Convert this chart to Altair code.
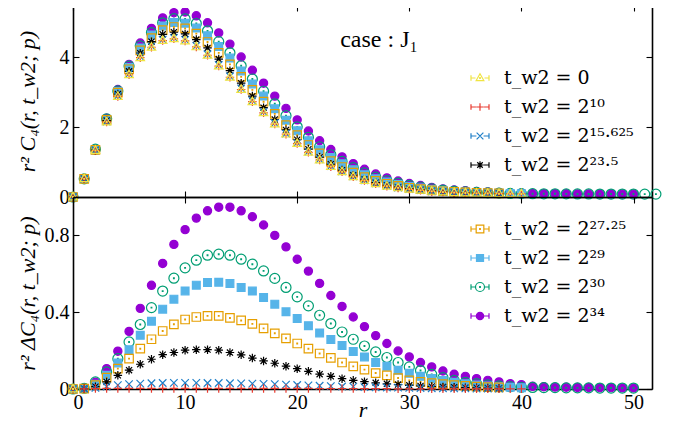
import altair as alt
import pandas as pd

FONT = "Liberation Serif"
LFONT = "DejaVu Serif"

SERIES = ["t_w2 = 0", "t_w2 = 2¹⁰", "t_w2 = 2¹⁵·⁶²⁵", "t_w2 = 2²³·⁵",
          "t_w2 = 2²⁷·²⁵", "t_w2 = 2²⁹", "t_w2 = 2³⁰", "t_w2 = 2³⁴"]
COLORS = ["#f0e442", "#e8392e", "#1f7fc8", "#000000",
          "#e69f00", "#56b4e9", "#009e73", "#9400d3"]
FILLS = ["transparent", "transparent", "transparent", "transparent",
         "transparent", "#56b4e9", "transparent", "#9400d3"]

X_TICKS = [0, 10, 20, 30, 40, 50]
Y_TICKS_TOP = [0, 2, 4]
Y_TICKS_BOT = [0, 0.4, 0.8]

# ---- top panel: r^2 C4(r, t_w2; p), r = 0, 1, 2, ...
C_0 = [0.0, 0.52, 1.33, 2.15, 2.88, 3.50, 3.99, 4.29, 4.48, 4.53, 4.47, 4.30, 4.06, 3.75,
       3.43, 3.08, 2.73, 2.41, 2.09, 1.80, 1.53, 1.28, 1.06, 0.87, 0.72, 0.58, 0.47, 0.38,
       0.31, 0.26, 0.22, 0.19, 0.16, 0.14, 0.125, 0.115, 0.105, 0.10, 0.095, 0.09, 0.088]
C_10 = [0.0, 0.52, 1.33, 2.15, 2.88, 3.50, 3.99, 4.29, 4.48, 4.53, 4.47, 4.30, 4.06, 3.75,
        3.43, 3.08, 2.73, 2.41, 2.09, 1.80, 1.53, 1.28, 1.06, 0.87, 0.72, 0.58, 0.47, 0.38,
        0.31, 0.26, 0.22, 0.19, 0.16, 0.14, 0.125, 0.115, 0.105, 0.10, 0.095, 0.09, 0.088]
C_15 = [0.0, 0.52, 1.34, 2.16, 2.90, 3.53, 4.02, 4.32, 4.51, 4.56, 4.50, 4.33, 4.09, 3.78,
        3.46, 3.11, 2.76, 2.44, 2.12, 1.82, 1.55, 1.30, 1.08, 0.885, 0.733, 0.592, 0.48,
        0.389, 0.318, 0.267, 0.226, 0.195, 0.164, 0.144, 0.128, 0.118, 0.107, 0.102, 0.097]
C_23 = [0.0, 0.52, 1.34, 2.19, 2.95, 3.60, 4.12, 4.45, 4.66, 4.72, 4.67, 4.51, 4.27, 3.95,
        3.62, 3.26, 2.89, 2.56, 2.22, 1.92, 1.64, 1.37, 1.14, 0.94, 0.77, 0.625, 0.508,
        0.412, 0.337, 0.283, 0.239, 0.206, 0.173, 0.151, 0.134, 0.122, 0.111, 0.105, 0.099]
C_27 = [0.0, 0.52, 1.35, 2.21, 2.99, 3.66, 4.20, 4.55, 4.78, 4.87, 4.83, 4.68, 4.44, 4.13,
        3.80, 3.44, 3.07, 2.73, 2.38, 2.06, 1.77, 1.49, 1.25, 1.03, 0.86, 0.70, 0.57, 0.46,
        0.38, 0.32, 0.265, 0.227, 0.191, 0.165, 0.145, 0.131, 0.117, 0.11, 0.103]
C_29 = [0.0, 0.52, 1.36, 2.22, 3.02, 3.71, 4.27, 4.64, 4.90, 5.00, 4.98, 4.84, 4.62, 4.31,
        3.98, 3.61, 3.24, 2.89, 2.53, 2.20, 1.90, 1.61, 1.35, 1.13, 0.95, 0.78, 0.64, 0.52,
        0.43, 0.36, 0.30, 0.256, 0.215, 0.184, 0.16, 0.142, 0.126, 0.116, 0.107, 0.099, 0.095]
C_30 = [0.0, 0.52, 1.37, 2.24, 3.04, 3.75, 4.33, 4.71, 4.99, 5.11, 5.10, 4.97, 4.76, 4.45,
        4.13, 3.76, 3.38, 3.03, 2.67, 2.33, 2.01, 1.71, 1.44, 1.21, 1.02, 0.84, 0.69, 0.57,
        0.47, 0.40, 0.335, 0.286, 0.236, 0.199, 0.17, 0.15, 0.133, 0.121, 0.111, 0.102,
        0.097, 0.094, 0.092, 0.091, 0.089, 0.088, 0.087, 0.085, 0.085, 0.084, 0.084, 0.083,
        0.083]
C_34 = [0.0, 0.53, 1.37, 2.26, 3.08, 3.80, 4.41, 4.83, 5.13, 5.28, 5.30, 5.19, 4.99, 4.70,
        4.38, 4.01, 3.63, 3.26, 2.89, 2.54, 2.21, 1.89, 1.61, 1.36, 1.15, 0.955, 0.795,
        0.658, 0.547, 0.458, 0.387, 0.328, 0.275, 0.234, 0.202, 0.181, 0.159, 0.145, 0.132,
        0.118, 0.111, 0.10, 0.097, 0.094, 0.092, 0.09, 0.089, 0.087, 0.087, 0.085, 0.085]

# ---- bottom panel: r^2 Delta C4(r, t_w2; p)
D_0 = [0.0]
D_10 = [0.0, 0.001, 0.002, 0.003, 0.003, 0.003, 0.003, 0.003, 0.003, 0.003, 0.003, 0.003,
        0.003, 0.003, 0.003, 0.003, 0.003, 0.003, 0.003, 0.003, 0.003, 0.003, 0.002, 0.002,
        0.002, 0.002, 0.002, 0.002, 0.002, 0.001, 0.001, 0.001, 0.001, 0.001, 0.001, 0.001,
        0.001, 0.001, 0.001, 0.001, 0.001]
D_15 = [0.0, 0.001, 0.006, 0.013, 0.02, 0.025, 0.028, 0.03, 0.031, 0.032, 0.032, 0.032,
        0.031, 0.031, 0.03, 0.029, 0.028, 0.027, 0.025, 0.023, 0.021, 0.019, 0.017, 0.015,
        0.013, 0.012, 0.01, 0.009, 0.008, 0.007, 0.006, 0.005, 0.004, 0.004, 0.003, 0.003,
        0.002, 0.002, 0.002]
D_23 = [0.0, 0.001, 0.012, 0.037, 0.071, 0.098, 0.129, 0.155, 0.179, 0.19, 0.202, 0.205,
        0.205, 0.202, 0.19, 0.178, 0.161, 0.146, 0.134, 0.119, 0.106, 0.092, 0.077, 0.066,
        0.054, 0.045, 0.038, 0.032, 0.027, 0.023, 0.019, 0.016, 0.013, 0.011, 0.009, 0.007,
        0.006, 0.005, 0.004]
D_27 = [0.0, 0.002, 0.02, 0.059, 0.106, 0.158, 0.21, 0.259, 0.302, 0.337, 0.362, 0.375,
        0.381, 0.381, 0.37, 0.357, 0.339, 0.316, 0.29, 0.264, 0.237, 0.21, 0.185, 0.162,
        0.138, 0.118, 0.101, 0.083, 0.071, 0.057, 0.045, 0.037, 0.031, 0.025, 0.02, 0.016,
        0.012, 0.01, 0.008]
D_29 = [0.0, 0.003, 0.025, 0.071, 0.136, 0.205, 0.28, 0.353, 0.416, 0.468, 0.511, 0.541,
        0.555, 0.556, 0.55, 0.529, 0.51, 0.477, 0.442, 0.402, 0.367, 0.33, 0.292, 0.258,
        0.226, 0.195, 0.167, 0.138, 0.118, 0.098, 0.082, 0.066, 0.055, 0.044, 0.035, 0.027,
        0.021, 0.016, 0.012, 0.009, 0.007]
D_30 = [0.0, 0.004, 0.037, 0.089, 0.158, 0.245, 0.336, 0.424, 0.51, 0.577, 0.631, 0.671,
        0.697, 0.702, 0.697, 0.676, 0.65, 0.615, 0.576, 0.529, 0.48, 0.433, 0.384, 0.341,
        0.297, 0.259, 0.224, 0.193, 0.164, 0.138, 0.115, 0.096, 0.076, 0.059, 0.045, 0.035,
        0.028, 0.021, 0.016, 0.012, 0.009, 0.008, 0.007, 0.007, 0.006, 0.006, 0.006, 0.005,
        0.005, 0.005, 0.005]
D_34 = [0.0, 0.005, 0.035, 0.106, 0.197, 0.30, 0.42, 0.54, 0.654, 0.753, 0.83, 0.89,
        0.928, 0.947, 0.947, 0.928, 0.897, 0.854, 0.80, 0.74, 0.676, 0.614, 0.55, 0.487,
        0.43, 0.375, 0.325, 0.278, 0.237, 0.198, 0.167, 0.138, 0.115, 0.094, 0.077, 0.066,
        0.054, 0.045, 0.037, 0.028, 0.023, 0.014, 0.012, 0.01, 0.009, 0.008, 0.008, 0.007,
        0.007, 0.006, 0.006]

TOP = [C_0, C_10, C_15, C_23, C_27, C_29, C_30, C_34]
BOT = [D_0, D_10, D_15, D_23, D_27, D_29, D_30, D_34]


# ---- marker glyphs (unit square -1..1)
def dot(k):
    d = 0.07 * k
    return f"M{-d},{-d}H{d}V{d}H{-d}Z"


def circle(k):
    return f"M{k},0A{k},{k} 0 1,1 {-k},0A{k},{k} 0 1,1 {k},0Z"


def square(k):
    return f"M{-k},{-k}H{k}V{k}H{-k}Z"


def triangle(k):
    return f"M0,{-k}L{0.9 * k},{0.6 * k}L{-0.9 * k},{0.6 * k}Z"


def plus(k):
    return f"M{-k},0H{k}M0,{-k}V{k}"


def xcross(k):
    return f"M{-k},{-k}L{k},{k}M{-k},{k}L{k},{-k}"


def aster(k):
    d = 0.72 * k
    return plus(k) + f"M{-d},{-d}L{d},{d}M{-d},{d}L{d},{-d}"


def glyphs(s):
    return [
        triangle(0.95 * s) + dot(s),
        plus(0.85 * s),
        xcross(0.75 * s),
        aster(0.85 * s),
        square(0.85 * s) + dot(s),
        square(0.78 * s),
        circle(1.0 * s) + dot(s),
        circle(0.82 * s),
    ]


MARK_SHAPES = glyphs(1.0)
LEG_K = 0.5
LEG_SHAPES = []
for g, k_half in zip(glyphs(LEG_K), [0.5, 0.45, 0.4, 0.45, 0.45, 0.42, 0.5, 0.42]):
    LEG_SHAPES.append(g + f"M-1,0H{-k_half}M{k_half},0H1M-1,-0.3V0.3M1,-0.3V0.3")


def frame(rows_list):
    rows = []
    for i in reversed(range(len(SERIES))):
        for r, v in enumerate(rows_list[i]):
            rows.append({"r": r, "v": v, "s": SERIES[i]})
    return pd.DataFrame(rows)


XSCALE = alt.Scale(domain=[0, 51.65], nice=False, zero=False)

AX = dict(domainColor="black", domainWidth=1.6, ticks=False, tickSize=0, grid=True,
          gridColor="black", gridWidth=1.1, gridDash=[6, 3000], gridOpacity=1,
          labelFont=FONT, labelFontSize=20, labelColor="black",
          titleFont=FONT, titleFontSize=22, titleColor="black",
          titleFontWeight="normal", titleFontStyle="italic")


def panel(values, ydom, yticks, yfmt, ytitle, leg_idx, leg_y, bottom, height):
    df = frame(values)
    yscale = alt.Scale(domain=ydom, nice=False, zero=False)
    if bottom:
        xaxis = alt.Axis(orient="bottom", values=X_TICKS, labels=True, labelPadding=3,
                         title="r", titlePadding=-13, **AX)
    else:
        xaxis = alt.Axis(orient="bottom", values=X_TICKS, labels=False, title=None,
                         minExtent=0, maxExtent=0, **AX)
    yaxis = alt.Axis(orient="left", values=yticks, format=yfmt, labelPadding=4,
                     minExtent=32, maxExtent=32, titlePadding=2, title=ytitle, **AX)
    pts = alt.Chart(df).mark_point(filled=False, size=100, strokeWidth=1.2, opacity=1).encode(
        x=alt.X("r:Q", scale=XSCALE, axis=xaxis),
        y=alt.Y("v:Q", scale=yscale, axis=yaxis),
        color=alt.Color("s:N", scale=alt.Scale(domain=SERIES, range=COLORS), legend=None),
        shape=alt.Shape("s:N", scale=alt.Scale(domain=SERIES, range=MARK_SHAPES), legend=None),
        fill=alt.Fill("s:N", scale=alt.Scale(domain=SERIES, range=FILLS), legend=None),
    )
    lser = [SERIES[i] for i in leg_idx]
    leg = alt.Legend(orient="none", legendX=397, legendY=leg_y, title=None,
                     labelFont=LFONT, labelFontSize=19, labelColor="black",
                     symbolSize=324, symbolStrokeWidth=1.2, rowPadding=9,
                     labelOffset=14, padding=0, labelLimit=300)
    mirror = alt.Chart(df).transform_filter("datum.r < 0").mark_point(
        filled=False, size=324, strokeWidth=1.2, opacity=1).encode(
        x=alt.X("r:Q", scale=XSCALE,
                axis=alt.Axis(orient="top", values=X_TICKS, labels=False, title=None,
                              minExtent=0, maxExtent=0, **AX)),
        y=alt.Y("v:Q", scale=yscale,
                axis=alt.Axis(orient="right", values=yticks, labels=False, title=None,
                              minExtent=0, maxExtent=0, **AX)),
        color=alt.Color("s:N", scale=alt.Scale(domain=lser, range=[COLORS[i] for i in leg_idx]),
                        legend=leg),
        shape=alt.Shape("s:N", scale=alt.Scale(domain=lser, range=[LEG_SHAPES[i] for i in leg_idx]),
                        legend=leg),
        fill=alt.Fill("s:N", scale=alt.Scale(domain=lser, range=[FILLS[i] for i in leg_idx]),
                      legend=leg),
    )
    layers = [pts, mirror]
    if not bottom:
        note = pd.DataFrame({"x": [27.3], "y": [4.29], "t": ["case : J₁"]})
        txt = alt.Chart(note).mark_text(font=FONT, fontSize=24, baseline="alphabetic",
                                        align="center", color="black").encode(
            x=alt.X("x:Q", scale=XSCALE, axis=None),
            y=alt.Y("y:Q", scale=yscale, axis=None),
            text="t:N")
        layers.append(txt)
    return alt.layer(*layers).properties(width=579, height=height).resolve_scale(
        color="independent", shape="independent", fill="independent").resolve_axis(
        x="independent", y="independent")


top = panel(TOP, [0, 5.5], Y_TICKS_TOP, "d", "r² C₄(r, t_w2; p)", [0, 1, 2, 3], 63, False, 192)
bot = panel(BOT, [0, 1.0], Y_TICKS_BOT, ".1~f", "r² ΔC₄(r, t_w2; p)", [4, 5, 6, 7], 22, True, 192)

chart = alt.vconcat(top, bot, spacing=0, bounds="flush").resolve_scale(
    x="independent", y="independent", color="independent", shape="independent",
    fill="independent").resolve_axis(x="independent", y="independent").properties(
    padding={"left": 8, "top": -3, "right": 5, "bottom": 0}).configure_view(stroke=None)

chart.save("out.html", embed_options={"renderer": "svg", "actions": False})
